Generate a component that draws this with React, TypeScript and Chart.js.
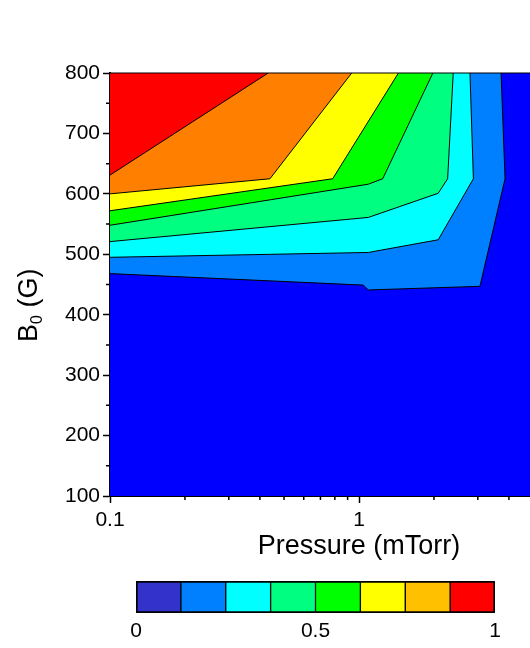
import React, { useEffect, useRef } from 'react';
import { Chart, registerables } from 'chart.js';

Chart.register(...registerables);

const FONT = "'Liberation Sans', Arial, Helvetica, sans-serif";

// ---- axes -------------------------------------------------------------
const pressureRange = [0.1, 10];
const fieldRange = [100, 800];
const pressureMajorTicks = [0.1, 1, 10];
const pressureMinorTicks = [0.2, 0.3, 0.4, 0.5, 0.6, 0.7, 0.8, 0.9, 2, 3, 4, 5, 6, 7, 8, 9];
const fieldMajorTicks = [100, 200, 300, 400, 500, 600, 700, 800];
const fieldMinorTicks = [150, 250, 350, 450, 550, 650, 750];

// ---- contour levels (lowest -> highest) ----------------------------------
const levelColors = ['#0000FF', '#0080FF', '#00FFFF', '#00FF80', '#00FF00', '#FFFF00', '#FF8000', '#FF0000'];

// lower boundary of each level (pressure in mTorr, B0 in G)
const edgeAzureP = [0.1, 1.04, 1.09, 3.06, 3.86, 3.72];
const edgeAzureB = [468, 449, 441, 447, 625, 800];
const edgeCyanP = [0.1, 1.09, 2.08, 2.88, 2.79];
const edgeCyanB = [495, 503, 524, 625, 800];
const edgeSpringP = [0.1, 1.09, 2.08, 2.27, 2.39];
const edgeSpringB = [521, 561, 601, 625, 800];
const edgeGreenP = [0.1, 1.09, 1.245, 1.98];
const edgeGreenB = [548, 616, 625, 800];
const edgeYellowP = [0.1, 0.784, 1.44];
const edgeYellowB = [572, 625, 800];
const edgeOrangeP = [0.1, 0.439, 0.935];
const edgeOrangeB = [600, 625, 800];
const edgeRedP = [0.1, 0.432];
const edgeRedB = [631, 800];

// ---- colour bar ----------------------------------------------------------
const colorbarColors = ['#3333CC', '#0080FF', '#00FFFF', '#00FF80', '#00FF00', '#FFFF00', '#FFC000', '#FF0000'];
const colorbarSpans = [0.125, 0.125, 0.125, 0.125, 0.125, 0.125, 0.125, 0.125];
const colorbarTicks = [0, 0.5, 1];

const edgesP = [edgeAzureP, edgeCyanP, edgeSpringP, edgeGreenP, edgeYellowP, edgeOrangeP, edgeRedP];
const edgesB = [edgeAzureB, edgeCyanB, edgeSpringB, edgeGreenB, edgeYellowB, edgeOrangeB, edgeRedB];

const MAIN_W = 640;
const MAIN_H = 570;
const BAR_H = 78;
const TICK_FONT = 21;

const axisExtras = {
  id: 'axisExtras',
  afterDraw(chart: any) {
    const { ctx, chartArea, scales } = chart;
    const xs = scales.x;
    const ys = scales.y;
    ctx.save();
    ctx.strokeStyle = '#000';
    ctx.lineWidth = 1.5;
    ctx.beginPath();
    for (const v of pressureMinorTicks) {
      const px = xs.getPixelForValue(v);
      ctx.moveTo(px, chartArea.bottom);
      ctx.lineTo(px, chartArea.bottom + 4);
    }
    for (const v of fieldMinorTicks) {
      const py = ys.getPixelForValue(v);
      ctx.moveTo(chartArea.left, py);
      ctx.lineTo(chartArea.left - 4, py);
    }
    ctx.stroke();
    // top frame
    ctx.lineWidth = 1;
    ctx.beginPath();
    ctx.moveTo(chartArea.left, chartArea.top);
    ctx.lineTo(chartArea.right, chartArea.top);
    ctx.stroke();
    // y title B0 (G) with subscript
    ctx.fillStyle = '#000';
    ctx.translate(37, 342);
    ctx.rotate(-Math.PI / 2);
    ctx.textAlign = 'left';
    ctx.textBaseline = 'alphabetic';
    ctx.font = `27px ${FONT}`;
    ctx.fillText('B', 0, 0);
    const wB = ctx.measureText('B').width;
    ctx.font = `16px ${FONT}`;
    ctx.fillText('0', wB, 5);
    const w0 = ctx.measureText('0').width;
    ctx.font = `27px ${FONT}`;
    ctx.fillText(' (G)', wB + w0, 0);
    ctx.restore();
  },
};

export default function App() {
  const mainRef = useRef<HTMLCanvasElement>(null);
  const barRef = useRef<HTMLCanvasElement>(null);

  useEffect(() => {
    Chart.defaults.font.family = FONT;
    Chart.defaults.color = '#000';

    const corner = { x: pressureRange[0], y: fieldRange[1] };
    const background = [
      { x: pressureRange[0], y: fieldRange[0] },
      { x: pressureRange[1], y: fieldRange[0] },
      { x: pressureRange[1], y: fieldRange[1] },
      { x: pressureRange[0], y: fieldRange[1] },
    ];

    const fillSets: any[] = [
      {
        label: 'level 0',
        data: background,
        showLine: true,
        fill: 'shape',
        backgroundColor: levelColors[0],
        borderColor: 'transparent',
        borderWidth: 0,
        pointRadius: 0,
        order: 100,
      },
    ];
    const lineSets: any[] = [];
    edgesP.forEach((ps, i) => {
      const pts = ps.map((p, j) => ({ x: p, y: edgesB[i][j] }));
      fillSets.push({
        label: `level ${i + 1}`,
        data: [...pts, corner],
        showLine: true,
        fill: 'shape',
        backgroundColor: levelColors[i + 1],
        borderColor: 'transparent',
        borderWidth: 0,
        pointRadius: 0,
        order: 99 - i,
      });
      lineSets.push({
        label: `edge ${i + 1}`,
        data: pts,
        showLine: true,
        fill: false,
        borderColor: '#000',
        borderWidth: 1,
        pointRadius: 0,
        order: 0,
      });
    });

    const main = new Chart(mainRef.current!, {
      type: 'scatter',
      data: { datasets: [...fillSets, ...lineSets] },
      options: {
        responsive: false,
        animation: false,
        devicePixelRatio: 1,
        events: [],
        layout: { padding: { left: 0, top: 73, right: MAIN_W - 608, bottom: 0 } },
        plugins: {
          legend: { display: false },
          tooltip: { enabled: false },
          title: { display: false },
        },
        scales: {
          x: {
            type: 'logarithmic',
            position: 'bottom',
            min: pressureRange[0],
            max: pressureRange[1],
            z: 1,
            afterBuildTicks: (s: any) => {
              s.ticks = pressureMajorTicks.map((v) => ({ value: v, major: true }));
            },
            afterFit: (s: any) => {
              s.height = MAIN_H - 496;
            },
            ticks: {
              autoSkip: false,
              maxRotation: 0,
              minRotation: 0,
              padding: 5,
              color: '#000',
              font: { size: TICK_FONT, family: FONT },
              callback: (v: any) => String(v),
            },
            grid: {
              display: true,
              drawOnChartArea: false,
              drawTicks: true,
              tickLength: 7,
              tickColor: '#000',
              tickWidth: 1.5,
            },
            border: { display: true, color: '#000', width: 2 },
            title: {
              display: true,
              text: 'Pressure (mTorr)',
              color: '#000',
              font: { size: 27, family: FONT },
              padding: { top: 0, bottom: 7 },
            },
          },
          y: {
            type: 'linear',
            position: 'left',
            min: fieldRange[0],
            max: fieldRange[1],
            z: 1,
            afterBuildTicks: (s: any) => {
              s.ticks = fieldMajorTicks.map((v) => ({ value: v }));
            },
            afterFit: (s: any) => {
              s.width = 110;
            },
            ticks: {
              autoSkip: false,
              padding: 3,
              color: '#000',
              font: { size: TICK_FONT, family: FONT },
              callback: (v: any) => String(v),
            },
            grid: {
              display: true,
              drawOnChartArea: false,
              drawTicks: true,
              tickLength: 7,
              tickColor: '#000',
              tickWidth: 1.5,
            },
            border: { display: true, color: '#000', width: 2 },
          },
        },
      } as any,
      plugins: [axisExtras],
    });

    const bar = new Chart(barRef.current!, {
      type: 'bar',
      data: {
        labels: [''],
        datasets: colorbarColors.map((c, i) => ({
          label: `c${i}`,
          data: [colorbarSpans[i]],
          backgroundColor: c,
          borderColor: '#000',
          borderWidth: {
            top: 2,
            bottom: 2,
            left: i === 0 ? 2 : 1,
            right: i === colorbarColors.length - 1 ? 2 : 1,
          },
          borderSkipped: false,
          barPercentage: 1,
          categoryPercentage: 1,
          stack: 'bar',
        })),
      },
      options: {
        indexAxis: 'y',
        responsive: false,
        animation: false,
        devicePixelRatio: 1,
        events: [],
        layout: { padding: { left: 136, right: 530 - 495, top: 11, bottom: 0 } },
        plugins: {
          legend: { display: false },
          tooltip: { enabled: false },
          title: { display: false },
        },
        scales: {
          x: {
            type: 'linear',
            stacked: true,
            min: 0,
            max: 1,
            afterBuildTicks: (s: any) => {
              s.ticks = colorbarTicks.map((v) => ({ value: v }));
            },
            afterFit: (s: any) => {
              s.height = BAR_H - 43;
            },
            grid: { display: false, drawTicks: false, tickLength: 0 },
            border: { display: false },
            ticks: {
              autoSkip: false,
              maxRotation: 0,
              padding: 6,
              color: '#000',
              font: { size: TICK_FONT, family: FONT },
              callback: (v: any) => String(v),
            },
          },
          y: { stacked: true, display: false },
        },
      } as any,
    });

    return () => {
      main.destroy();
      bar.destroy();
    };
  }, []);

  return (
    <div
      style={{
        position: 'absolute',
        left: 0,
        top: 0,
        width: 530,
        height: 648,
        overflow: 'hidden',
        background: '#fff',
      }}
    >
      <canvas
        ref={mainRef}
        width={MAIN_W}
        height={MAIN_H}
        style={{ position: 'absolute', left: 0, top: 0, width: MAIN_W, height: MAIN_H }}
      />
      <canvas
        ref={barRef}
        width={530}
        height={BAR_H}
        style={{ position: 'absolute', left: 0, top: MAIN_H, width: 530, height: BAR_H }}
      />
    </div>
  );
}
